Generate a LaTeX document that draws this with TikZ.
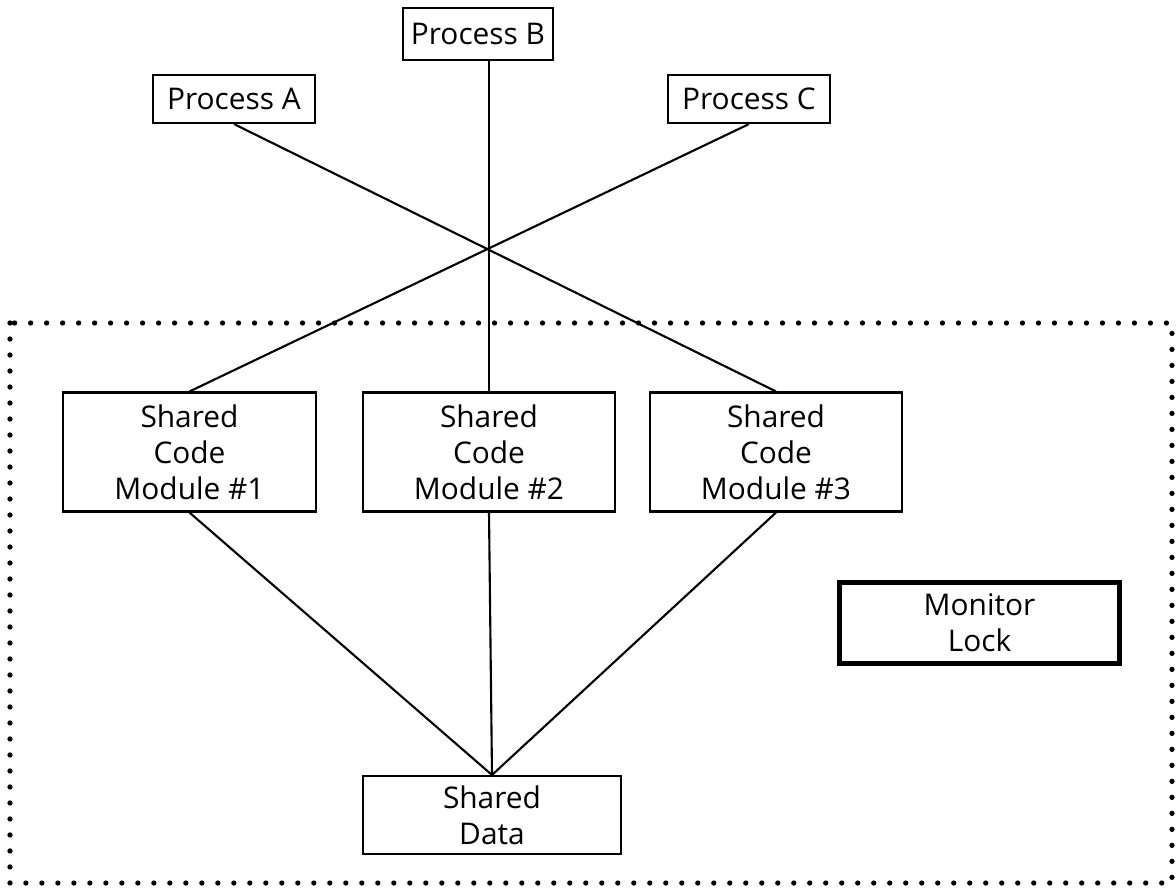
\documentclass[tikz,border=0pt]{standalone}
\usepackage{fontspec}
\setmainfont{Open Sans}
\usetikzlibrary{calc}

\begin{document}
\begin{tikzpicture}[x=0.02cm,y=-0.02cm,
  font=\fontsize{17}{20.5}\selectfont,
  proc/.style={draw,very thick,minimum width=3.24cm,minimum height=0.96cm,inner sep=0pt},
  module/.style={draw,very thick,align=center,minimum width=5.05cm,minimum height=2.38cm,inner sep=0pt},
  link/.style={very thick}]
\useasboundingbox (0,0) rectangle (1176,887);
% monitor boundary
\draw[line width=3pt,line cap=round,dash pattern=on 0pt off 0.32cm] (10,323) rectangle (1172,883);
% processes
\node[proc] (pa) at (234,99) {Process A};
\node[proc,minimum width=3cm,minimum height=1.04cm] (pb) at (478,34) {Process B};
\node[proc] (pc) at (749,99) {Process C};
% code modules
\node[module] (m1) at (189.5,452) {Shared\\Code\\Module \#1};
\node[module] (m2) at (489,452) {Shared\\Code\\Module \#2};
\node[module] (m3) at (776,452) {Shared\\Code\\Module \#3};
\node[draw,very thick,align=center,minimum width=5.16cm,minimum height=1.56cm,inner sep=0pt] (sd) at (492,815) {Shared\\Data};
\node[draw,line width=3pt,align=center,minimum width=5.6cm,minimum height=1.62cm,inner sep=0pt] (ml) at (979.5,623) {Monitor\\Lock};
% calls into the modules
\draw[link] (pa.south) -- (m3.north);
\draw[link] (pc.south) -- (m1.north);
\draw[link] (m2.north |- pb.south) -- (m2.north);
\foreach \m in {m1,m2,m3}
  \draw[link] (\m.south) -- (sd.north);
\end{tikzpicture}
\end{document}
